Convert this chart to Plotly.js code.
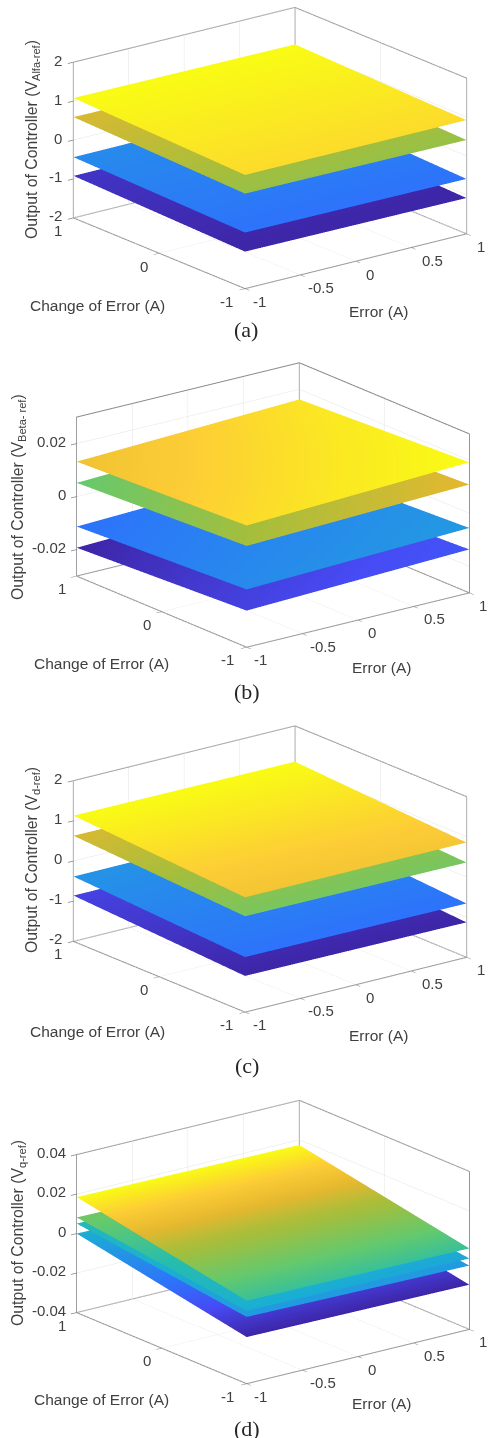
<!DOCTYPE html>
<html><head><meta charset="utf-8">
<script src="https://cdn.plot.ly/plotly-3.0.1.min.js"></script>
<style>html,body{margin:0;padding:0;background:#fff}#c{width:488px;height:1438px}</style>
</head><body><div id="c"></div>
<script>
const W=488,H=1438;
// shared axis ticks
const errorTicks=[-1,-0.5,0,0.5,1];
const changeTicks=[-1,0,1];
const grid2=[-1,1];
const grid3=[-1,0,1];
const parula=[[0,'#3e26a8'],[0.1,'#474bf5'],[0.2,'#2d73fb'],[0.3,'#2591e7'],[0.4,'#1aafd2'],[0.5,'#27bdac'],[0.6,'#64c96e'],[0.7,'#a5be3c'],[0.8,'#e4b82f'],[0.9,'#fdcd36'],[1,'#f9fb15']];
// rows: change of error -1..1, columns: error -1..1
const zA=[[[0.92,0.92],[1.08,1.05]],[[0.44,0.41],[0.59,0.55]],[[-0.56,-0.59],[-0.44,-0.42]],[[-1.05,-1.08],[-0.92,-0.92]]];
const colorA=[[[0.93,0.93],[1,1]],[[0.68,0.68],[0.78,0.75]],[[0.2,0.2],[0.28,0.28]],[[0,0],[0.04,0.03]]];
const zB=[[[0.0159,0.0193],[0.0132,0.0162]],[[0.0082,0.0109],[0.0052,0.0082]],[[-0.0082,-0.0055],[-0.0113,-0.0085]],[[-0.0162,-0.0136],[-0.0193,-0.0165]]];
const colorB=[[[0.93,1],[0.85,0.95]],[[0.7,0.8],[0.6,0.72]],[[0.28,0.33],[0.2,0.26]],[[0.08,0.13],[0,0.06]]];
const zC=[[[0.857,0.857],[1.13,1.11]],[[0.385,0.36],[0.63,0.6]],[[-0.63,-0.66],[-0.385,-0.37]],[[-1.1,-1.13],[-0.86,-0.85]]];
const colorC=[[[0.86,0.87],[1,1]],[[0.63,0.63],[0.78,0.74]],[[0.2,0.2],[0.31,0.3]],[[0,0],[0.08,0.07]]];
const zD=[[[0.002,0.0015,0.001],[0.0102,0.0097,0.0092],[0.0185,0.018,0.0174]],
 [[-0.0031,-0.0036,-0.0041],[0.0026,0.002,0.0015],[0.0082,0.0076,0.007]],
 [[-0.0062,-0.007,-0.0077],[-0.0005,-0.001,-0.0018],[0.0051,0.0045,0.004]],
 [[-0.0164,-0.0169,-0.0174],[-0.0082,-0.0087,-0.0092],[0,-0.0005,-0.001]]];
const colorD=[[[0.53,0.53,0.53],[0.72,0.72,0.72],[1,1,1]],
 [[0.4,0.38,0.37],[0.5,0.5,0.5],[0.62,0.62,0.62]],
 [[0.33,0.33,0.33],[0.4,0.4,0.4],[0.47,0.47,0.47]],
 [[0,0,0],[0.2,0.2,0.2],[0.4,0.4,0.4]]];
const panels=[
 {id:'scene',  cx:270,cy:148,z:zA,color:colorA,g:grid2,range:[-2,2],ticks:[-2,-1,0,1,2],tickText:['-2','-1','0','1','2'],zh:156,hx:222,hy:172,
  sub:'Alfa-ref',ztitle:[32,140],coe:[97,306],err:[378,311],cap:[246,330],capText:'(a)'},
 {id:'scene2', cx:273,cy:504.5,z:zB,color:colorB,g:grid2,range:[-0.03,0.03],ticks:[-0.02,0,0.02],tickText:['-0.02','0','0.02'],zh:157,hx:220,hy:168,
  sub:'Beta- ref',ztitle:[18,497],coe:[101,663],err:[381,667],cap:[247,691],capText:'(b)'},
 {id:'scene3', cx:270,cy:868.5,z:zC,color:colorC,g:grid2,range:[-2,2],ticks:[-2,-1,0,1,2],tickText:['-2','-1','0','1','2'],zh:161,hx:222,hy:172,
  sub:'d-ref',ztitle:[32,860],coe:[97,1031],err:[378,1035],cap:[247,1065],capText:'(c)'},
 {id:'scene4', cx:273,cy:1241.5,z:zD,color:colorD,g:grid3,range:[-0.04,0.04],ticks:[-0.04,-0.02,0,0.02,0.04],tickText:['-0.04','-0.02','0','0.02','0.04'],zh:156,hx:220,hy:168,
  sub:'q-ref',ztitle:[18,1233],coe:[101,1399],err:[381,1403],cap:[247,1428],capText:'(d)'}
];
const SH=296,SW=420,EYE=1.75,K=1.894;
const fontTick={family:'"Liberation Sans",Arial,sans-serif',size:15,color:'#404040'};
const fontTitle={family:'"Liberation Sans",Arial,sans-serif',size:15.5,color:'#404040'};
const traces=[],layout={width:W,height:H,margin:{l:0,r:0,t:0,b:0},paper_bgcolor:'#fff',showlegend:false,annotations:[]};
function ax(range,vals){return {range:range,tickvals:vals,ticktext:vals.map(String),ticks:'outside',ticklen:7,tickcolor:'#808080',tickwidth:1.5,showticklabels:false,
  showgrid:true,gridcolor:'#e4e4e4',gridwidth:1,zeroline:false,showline:false,showbackground:false,showspikes:false,title:{text:''}};}
function ann(t,p,extra){layout.annotations.push(Object.assign({text:t,xref:'paper',yref:'paper',x:p[0]/W,y:1-p[1]/H,xanchor:'center',yanchor:'middle',showarrow:false,font:fontTitle},extra||{}));}
for(const p of panels){
  for(let i=0;i<p.z.length;i++){
    traces.push({type:'surface',scene:p.id,x:p.g,y:p.g,z:p.z[i],surfacecolor:p.color[i],cmin:0,cmax:1,colorscale:parula,showscale:false,hoverinfo:'skip',
      lighting:{ambient:1,diffuse:0,specular:0,roughness:1,fresnel:0},contours:{x:{highlight:false},y:{highlight:false},z:{highlight:false}}});
  }
  const r=p.range;
  traces.push({type:'scatter3d',mode:'lines',scene:p.id,hoverinfo:'skip',line:{color:'#8a8a8a',width:2},
    x:[-1,-1,1,1,-1,-1,1,1,1,1,1,1],
    y:[1,-1,-1,1,1,1,1,-1,-1,1,1,1],
    z:[r[0],r[0],r[0],r[0],r[0],r[1],r[1],r[1],r[0],r[0],r[1],r[1]]});
  const d=Math.hypot(p.hx,p.hy),fx=p.hy/d,fy=p.hx/d,el=0.325,ce=Math.cos(el);
  const S=d;
  layout[p.id]={domain:{x:[(p.cx-SW/2)/W,(p.cx+SW/2)/W],y:[1-(p.cy+SH/2)/H,1-(p.cy-SH/2)/H]},
    aspectmode:'manual',aspectratio:{x:K,y:K,z:K*p.zh/(S*ce)},
    camera:{projection:{type:'orthographic'},up:{x:0,y:0,z:1},center:{x:0,y:0,z:0},eye:{x:-fx*ce*EYE,y:-fy*ce*EYE,z:Math.sin(el)*EYE}},
    xaxis:ax([-1,1],errorTicks),yaxis:ax([-1,1],changeTicks),zaxis:ax(r,p.ticks),bgcolor:'#fff',
    annotations:[]};
  const a=layout[p.id].annotations;
  const lab=(x,y,z,t,xs,ys,xa)=>a.push({x:x,y:y,z:z,text:t,showarrow:false,xanchor:xa||'center',yanchor:'middle',xshift:xs,yshift:ys,font:fontTick});
  errorTicks.forEach(v=>{const t=String(v);lab(v,-1,r[0],t,t.length>2?21:14,-13);});
  changeTicks.forEach(v=>lab(-1,v,r[0],String(v),v<0?-19:-15,-13));
  p.ticks.forEach((v,i)=>lab(-1,1,v,p.tickText[i],-9,2,'right'));
  ann('Change of Error (A)',p.coe);
  ann('Error (A)',p.err);
  ann('Output of Controller (V<sub>'+p.sub+'</sub>)',p.ztitle,{textangle:-90,font:Object.assign({},fontTitle,{size:15.8})});
  ann(p.capText,p.cap,{font:{family:'"Liberation Serif","Times New Roman",serif',size:22,color:'#262626'}});
}
Plotly.newPlot('c',traces,layout,{displayModeBar:false});
</script></body></html>
